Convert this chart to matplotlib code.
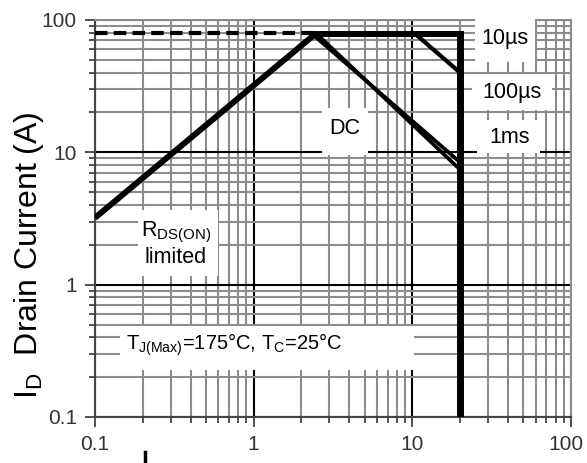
import matplotlib
matplotlib.use('Agg')
import matplotlib.pyplot as plt
from matplotlib.patches import Rectangle
from matplotlib.lines import Line2D
from matplotlib.transforms import ScaledTranslation
import numpy as np

plt.rcParams['font.family'] = ['Liberation Sans', 'DejaVu Sans']
plt.rcParams['mathtext.fontset'] = 'custom'
plt.rcParams['mathtext.rm'] = 'Liberation Sans'
plt.rcParams['mathtext.it'] = 'Liberation Sans'

# safe operating area boundaries (V_DS in V, I_D in A)
rds_v = [0.1, 2.4]
rds_i = [3.2, 77]
pkg_v = [0.1, 2.4]
pkg_i = [80, 80]
top_v = [2.4, 20]
top_i = [78, 78]
vmax_v = [20, 20]
vmax_i = [78, 0.1]
us10_v = [10.5, 20]
us10_i = [78, 40]
ms1_v = [2.35, 20]
ms1_i = [78, 8.4]
dc_v = [2.6, 20]
dc_i = [75, 7.4]

xticks = [0.1, 1, 10, 100]
xticklabels = ['0.1', '1', '10', '100']
yticks = [0.1, 1, 10, 100]
yticklabels = ['0.1', '1', '10', '100']

fig = plt.figure(figsize=(5.87, 4.63), dpi=100)
ax = fig.add_axes([95/587, 1-417/463, 476/587, 397/463])
ax.set_xscale('log')
ax.set_yscale('log')
ax.set_xlim(0.1, 100)
ax.set_ylim(0.1, 100)

ax.set_axisbelow(True)
ax.grid(True, which='minor', color='#8c8c8c', lw=1.5)
ax.grid(True, which='major', color='black', lw=1.5)

ax.set_xticks(xticks)
ax.set_xticklabels(xticklabels)
ax.set_yticks(yticks)
ax.set_yticklabels(yticklabels)
ax.tick_params(which='major', direction='out', length=7, width=1.2,
               color='#333333', labelsize=15, labelcolor='#333333', pad=6)
ax.tick_params(which='minor', direction='out', length=4, width=1.2,
               color='#333333')
# last x label sits a little inside the figure edge
lab = ax.get_xticklabels()[-1]
lab.set_transform(lab.get_transform() + ScaledTranslation(-0.05, 0, fig.dpi_scale_trans))
for s in ['left', 'bottom']:
    ax.spines[s].set_color('#444444')
    ax.spines[s].set_linewidth(1.5)
for s in ['top', 'right']:
    ax.spines[s].set_color('#8c8c8c')
    ax.spines[s].set_linewidth(1.5)

# white label backgrounds that break the grid (pixel boxes -> data)
def px2x(px):
    return 10 ** ((px - 95) / 158.7 - 1)

def py2y(py):
    return 10 ** (2 - (py - 20) / 132.3)

boxes = [(475, 18, 535, 62), (472, 74, 552, 110), (477, 120, 540, 153),
         (322, 108, 368, 155), (138, 210, 218, 276), (120, 326, 414, 370)]
for x0, y0, x1, y1 in boxes:
    ax.add_patch(Rectangle((px2x(x0), py2y(y1)), px2x(x1) - px2x(x0),
                           py2y(y0) - py2y(y1), facecolor='white',
                           edgecolor='none', zorder=3, clip_on=False))

ax.plot(rds_v, rds_i, color='black', lw=4.3, zorder=4, solid_capstyle='butt')
ax.plot(pkg_v, pkg_i, color='black', lw=3, ls=(0, (3, 1.5)), zorder=4)
ax.plot(top_v, top_i, color='black', lw=4.3, zorder=4)
ax.plot(vmax_v, vmax_i, color='black', lw=5, zorder=4)
ax.plot(us10_v, us10_i, color='black', lw=3, zorder=4)
ax.plot(ms1_v, ms1_i, color='black', lw=2.7, zorder=4)
ax.plot(dc_v, dc_i, color='black', lw=2.7, zorder=4)

fs = 15.5
ax.text(px2x(505), py2y(38), '10\u00b5s', fontsize=fs, ha='center', va='center', zorder=5)
ax.text(px2x(512), py2y(92), '100\u00b5s', fontsize=fs, ha='center', va='center', zorder=5)
ax.text(px2x(510), py2y(137), '1ms', fontsize=fs, ha='center', va='center', zorder=5)
ax.text(px2x(345), py2y(128), 'DC', fontsize=fs, ha='center', va='center', zorder=5)
ax.text(px2x(176), py2y(232), 'R$_{\\mathregular{DS(ON)}}$', fontsize=fs,
        ha='center', va='center', zorder=5)
ax.text(px2x(176), py2y(257), 'limited', fontsize=fs, ha='center', va='center', zorder=5)
ax.text(px2x(126), py2y(345),
        'T$_{\\mathregular{J(Max)}}$=175\u00b0C, T$_{\\mathregular{C}}$=25\u00b0C',
        fontsize=14.5, ha='left', va='center', zorder=5)

fig.text(29/587, 1-255/463, 'I$_{\\mathregular{D}}$  Drain Current (A)',
         rotation=90, fontsize=23, ha='center', va='center')

fig.add_artist(Line2D([145/587, 145/587], [0, 11/463], color='black', lw=2.5))

fig.savefig('out.png', dpi=100)
